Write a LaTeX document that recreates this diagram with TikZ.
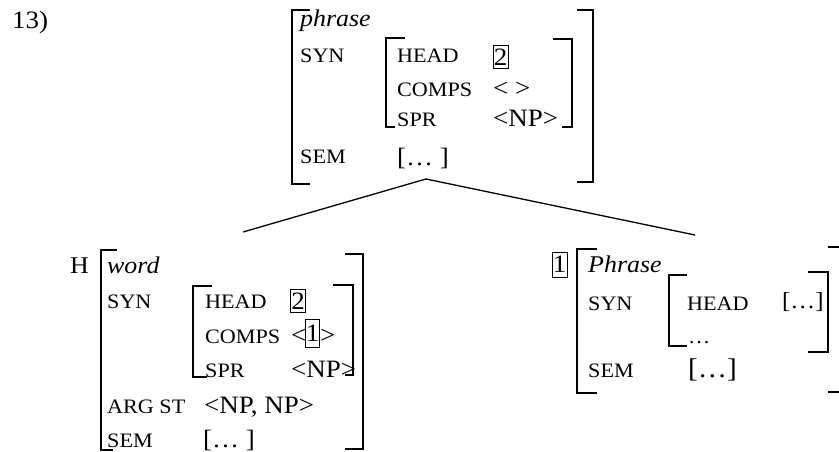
\documentclass[tikz,border=0pt]{standalone}
\usepackage{fontspec}
\setmainfont{Liberation Serif}[FakeStretch=1.08]
\newcommand{\avmlab}{\fontsize{20.5}{24}\selectfont}
\newcommand{\avmval}{\fontsize{25}{28}\selectfont}

\begin{document}
\begin{tikzpicture}[
    x=1pt, y=-1pt,
    lab/.style={anchor=base west, inner sep=0pt, font=\avmlab},
    val/.style={anchor=base west, inner sep=0pt, font=\avmval},
    tag/.style={draw, line width=0.9pt, inner sep=0pt,
        minimum width=15pt, minimum height=23pt, font=\avmval},
    brk/.style={line width=1.3pt},
    branch/.style={line width=1.3pt}
]
\useasboundingbox (0,0) rectangle (839,452);

% --- Top AVM ---
\node[val] (num) at (12,29) {13)};
\node[val, font=\fontsize{24}{28}\selectfont\itshape] (tphrase) at (300,27) {phrase};
\node[lab] (tsyn) at (300,63) {SYN};
\node[lab] (thead) at (397,63) {HEAD};
\node[tag] (thtag) at (500.5,57) {2};
\node[lab] (tcomps) at (397,96) {COMPS};
\node[val] (tcompsv) at (493,96) {< >};
\node[lab] (tspr) at (397,127) {SPR};
\node[val] (tsprv) at (493,127) {<NP>};
\node[lab] (tsem) at (300,163) {SEM};
\node[val] (tsemv) at (397,165) {[… ]};

\draw[brk] (310,10) -- (292,10) -- (292,184) -- (310,184);
\draw[brk] (577,10) -- (593,10) -- (593,182) -- (577,182);
\draw[brk] (405,38) -- (386,38) -- (386,127) -- (395,127);
\draw[brk] (553,39) -- (572,39) -- (572,127) -- (562,127);

% --- Branches ---
\coordinate (apex) at (426,179);
\coordinate (hleft) at (243,232);
\coordinate (hright) at (695,235);
\draw[branch] (apex) -- (hleft);
\draw[branch] (apex) -- (hright);

% --- Head daughter ---
\node[val, font=\fontsize{24}{28}\selectfont] (hmark) at (70,273) {H};
\node[val, font=\fontsize{24}{28}\selectfont\itshape] (wword) at (107,273) {word};
\node[lab] (wsyn) at (107,308) {SYN};
\node[lab] (whead) at (205,308) {HEAD};
\node[tag] (whtag) at (298,301) {2};
\node[lab] (wcomps) at (205,343) {COMPS};
\node[val] (wcl) at (291,343) {<};
\node[tag, minimum width=13pt, minimum height=28pt] (wctag) at (312.5,333.5) {1};
\node[val] (wcr) at (320,343) {>};
\node[lab] (wspr) at (205,377) {SPR};
\node[val] (wsprv) at (291,377) {<NP>};
\node[lab] (warg) at (107,413) {ARG ST};
\node[val] (wargv) at (204,413) {<NP, NP>};
\node[lab] (wsem) at (107,447) {SEM};
\node[val] (wsemv) at (203,447) {[… ]};

\draw[brk] (117,250) -- (101,250) -- (101,450) -- (113,450);
\draw[brk] (345,254) -- (363,254) -- (363,449) -- (345,449);
\draw[brk] (212,286) -- (193,286) -- (193,377) -- (207,377);
\draw[brk] (333,285) -- (353,285) -- (353,375) -- (345,375);

% --- Complement daughter ---
\node[tag, minimum height=25pt] (ctag) at (559.5,264.5) {1};
\node[val, font=\fontsize{24}{28}\selectfont\itshape] (cphrase) at (588,272) {Phrase};
\node[lab] (csyn) at (588,310) {SYN};
\node[lab] (chead) at (687,310) {HEAD};
\node[val, font=\fontsize{23}{28}\selectfont] (cheadv) at (782,308) {[…]};
\node[lab] (cdots) at (688,343) {…};
\node[lab] (csem) at (588,377) {SEM};
\node[val, font=\fontsize{27}{32}\selectfont] (csemv) at (688,377) {[…]};

\draw[brk] (597,249) -- (577,249) -- (577,393) -- (597,393);
\draw[brk] (687,275) -- (669,275) -- (669,346) -- (687,346);
\draw[brk] (808,272) -- (828,272) -- (828,352) -- (808,352);
\draw[brk] (828,247) -- (845,247) -- (845,392) -- (828,392);

\end{tikzpicture}
\end{document}
